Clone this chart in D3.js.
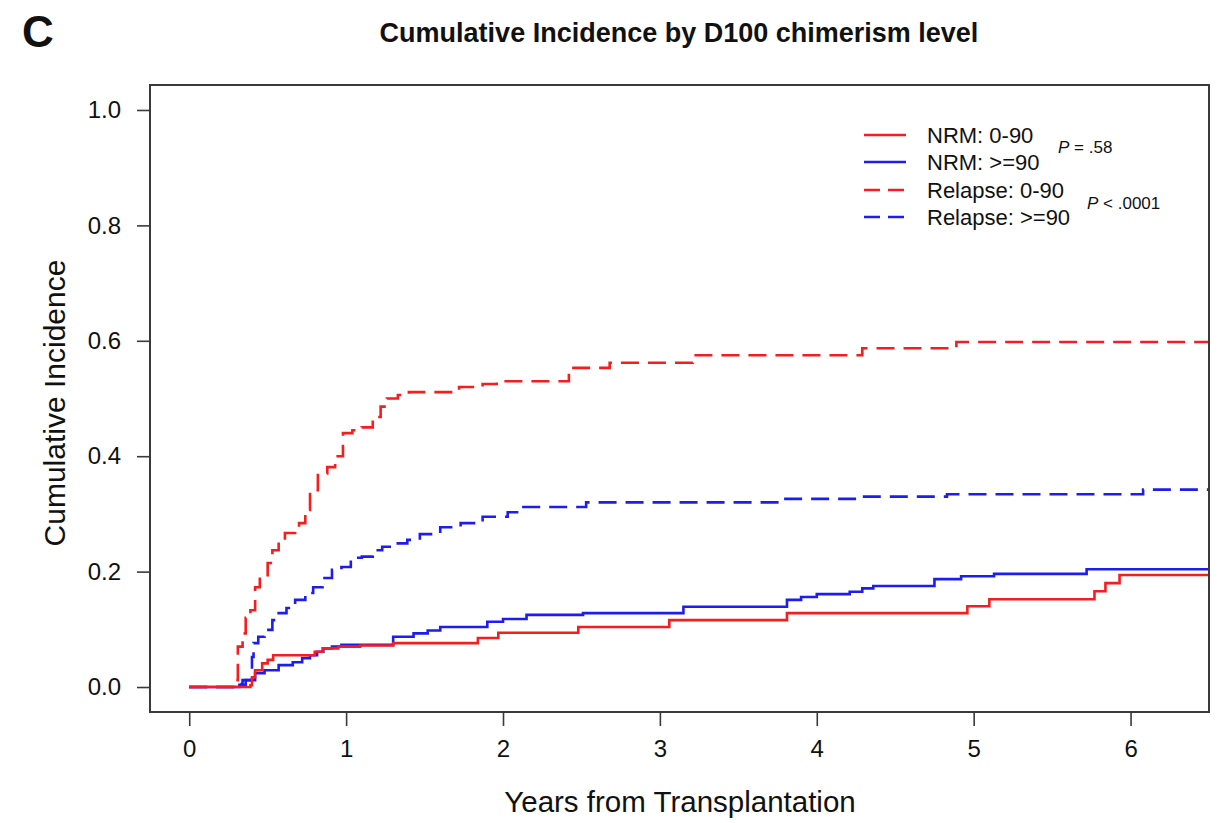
<!DOCTYPE html>
<html>
<head>
<meta charset="utf-8">
<script src="https://cdn.jsdelivr.net/npm/d3@7"></script>
<style>
  html, body { margin: 0; padding: 0; background: #fff; }
  svg { display: block; }
  text { font-family: "Liberation Sans", Arial, sans-serif; fill: #111; }
</style>
</head>
<body>
<svg id="chart" width="1220" height="823"></svg>
<script>
// ---- data ----
const xTicks = [0, 1, 2, 3, 4, 5, 6];
const yTicks = [0.0, 0.2, 0.4, 0.6, 0.8, 1.0];

const nrmLowTime  = [0, 0.39, 0.40, 0.42, 0.465, 0.50, 0.535, 0.80, 0.85, 0.95, 1.09, 1.30, 1.84, 1.97, 2.48, 3.06, 3.81, 4.96, 5.10, 5.77, 5.84, 5.93, 6.6];
const nrmLowValue = [0, 0.003, 0.017, 0.029, 0.041, 0.047, 0.055, 0.061, 0.067, 0.070, 0.072, 0.076, 0.085, 0.094, 0.104, 0.116, 0.128, 0.140, 0.152, 0.166, 0.180, 0.194, 0.194];

const nrmHighTime  = [0, 0.32, 0.36, 0.42, 0.48, 0.57, 0.66, 0.72, 0.77, 0.815, 0.855, 0.91, 0.97, 1.30, 1.43, 1.52, 1.60, 1.90, 2.00, 2.15, 2.51, 3.15, 3.81, 3.90, 4.00, 4.21, 4.29, 4.36, 4.75, 4.92, 5.13, 5.72, 6.6];
const nrmHighValue = [0, 0.004, 0.012, 0.024, 0.029, 0.038, 0.043, 0.050, 0.055, 0.061, 0.067, 0.070, 0.073, 0.087, 0.093, 0.098, 0.104, 0.113, 0.118, 0.125, 0.128, 0.139, 0.151, 0.156, 0.161, 0.165, 0.171, 0.175, 0.187, 0.192, 0.196, 0.204, 0.204];

const relLowTime  = [0, 0.29, 0.31, 0.34, 0.36, 0.39, 0.42, 0.45, 0.50, 0.53, 0.57, 0.61, 0.675, 0.70, 0.74, 0.77, 0.82, 0.88, 0.93, 0.98, 1.04, 1.10, 1.17, 1.22, 1.26, 1.33, 1.40, 1.72, 1.87, 1.96, 2.42, 2.68, 3.21, 4.29, 4.89, 6.6];
const relLowValue = [0, 0.012, 0.070, 0.093, 0.120, 0.133, 0.173, 0.190, 0.215, 0.237, 0.255, 0.267, 0.272, 0.284, 0.307, 0.341, 0.370, 0.381, 0.400, 0.440, 0.445, 0.450, 0.468, 0.486, 0.500, 0.506, 0.511, 0.520, 0.525, 0.530, 0.553, 0.562, 0.575, 0.587, 0.598, 0.598];

const relHighTime  = [0, 0.32, 0.34, 0.40, 0.41, 0.44, 0.48, 0.53, 0.57, 0.62, 0.675, 0.74, 0.79, 0.85, 0.91, 0.97, 1.03, 1.10, 1.17, 1.23, 1.30, 1.39, 1.47, 1.60, 1.73, 1.87, 2.03, 2.13, 2.53, 3.76, 4.27, 4.83, 6.08, 6.6];
const relHighValue = [0, 0.005, 0.012, 0.052, 0.076, 0.087, 0.099, 0.116, 0.128, 0.137, 0.151, 0.163, 0.173, 0.189, 0.203, 0.208, 0.224, 0.226, 0.237, 0.243, 0.249, 0.255, 0.265, 0.277, 0.284, 0.295, 0.303, 0.312, 0.320, 0.326, 0.330, 0.334, 0.342, 0.342];

const seriesNames  = ["NRM: 0-90", "NRM: >=90", "Relapse: 0-90", "Relapse: >=90"];
const seriesColors = ["#f51d1d", "#1d1df0", "#f51d1d", "#1d1df0"];
const seriesDashed = [false, false, true, true];

const title = "Cumulative Incidence by D100 chimerism level";
const panelLetter = "C";
const xLabel = "Years from Transplantation";
const yLabel = "Cumulative Incidence";

// ---- layout ----
const box = { left: 150, right: 1209, top: 85, bottom: 712 };
const svg = d3.select("#chart");

const x = d3.scaleLinear().domain([-0.25, 6.5]).range([box.left, box.right]);
const y = d3.scaleLinear().domain([-0.0433, 1.0433]).range([box.bottom, box.top]);

svg.append("defs").append("clipPath").attr("id", "clip")
  .append("rect").attr("x", box.left).attr("y", box.top)
  .attr("width", box.right - box.left).attr("height", box.bottom - box.top);

const series = [
  d3.zip(nrmLowTime, nrmLowValue),
  d3.zip(nrmHighTime, nrmHighValue),
  d3.zip(relLowTime, relLowValue),
  d3.zip(relHighTime, relHighValue)
];

const line = d3.line().x(d => x(d[0])).y(d => y(d[1])).curve(d3.curveStepAfter);

const g = svg.append("g").attr("clip-path", "url(#clip)");
[3, 2, 1, 0].forEach(i => {
  g.append("path")
    .attr("d", line(series[i]))
    .attr("fill", "none")
    .attr("stroke", seriesColors[i])
    .attr("stroke-width", 2.6)
    .attr("stroke-dasharray", seriesDashed[i] ? "18,9" : null);
});

// frame
svg.append("rect")
  .attr("x", box.left).attr("y", box.top)
  .attr("width", box.right - box.left).attr("height", box.bottom - box.top)
  .attr("fill", "none").attr("stroke", "#3a3a3a").attr("stroke-width", 2);

// x axis (ticks only, below frame)
const xAxis = d3.axisBottom(x).tickValues(xTicks).tickFormat(d3.format("d"))
  .tickSize(14).tickPadding(14);
const xg = svg.append("g").attr("transform", `translate(0,${box.bottom})`).call(xAxis);
xg.select(".domain").remove();
xg.selectAll(".tick line").attr("stroke", "#3a3a3a").attr("stroke-width", 1.6);
xg.selectAll(".tick text").attr("font-size", 24)
  .attr("font-family", "'Liberation Sans', Arial, sans-serif").attr("fill", "#111");

// y axis
const yAxis = d3.axisLeft(y).tickValues(yTicks).tickFormat(d3.format(".1f"))
  .tickSize(13).tickPadding(16);
const yg = svg.append("g").attr("transform", `translate(${box.left},0)`).call(yAxis);
yg.select(".domain").remove();
yg.selectAll(".tick line").attr("stroke", "#3a3a3a").attr("stroke-width", 1.6);
yg.selectAll(".tick text").attr("font-size", 24)
  .attr("font-family", "'Liberation Sans', Arial, sans-serif").attr("fill", "#111");

// titles
svg.append("text").attr("x", 22).attr("y", 47)
  .attr("font-size", 44).attr("font-weight", "bold").text(panelLetter);
svg.append("text").attr("x", 679).attr("y", 42).attr("text-anchor", "middle")
  .attr("font-size", 27).attr("font-weight", "bold").text(title);
svg.append("text").attr("x", 680).attr("y", 812).attr("text-anchor", "middle")
  .attr("font-size", 29.5).text(xLabel);
svg.append("text").attr("transform", "translate(65,403) rotate(-90)")
  .attr("text-anchor", "middle").attr("font-size", 30).text(yLabel);

// legend
const legY = [135, 162, 190, 217];
const leg = svg.append("g");
seriesNames.forEach((name, i) => {
  leg.append("line")
    .attr("x1", 864).attr("x2", 906).attr("y1", legY[i]).attr("y2", legY[i])
    .attr("stroke", seriesColors[i]).attr("stroke-width", 2.6)
    .attr("stroke-dasharray", seriesDashed[i] ? "16,8" : null);
  leg.append("text").attr("x", 927).attr("y", legY[i] + 8)
    .attr("font-size", 22).text(name);
});

// p-values
const p1 = svg.append("text").attr("x", 1058).attr("y", 153).attr("font-size", 17);
p1.append("tspan").attr("font-style", "italic").text("P");
p1.append("tspan").text(" = .58");
const p2 = svg.append("text").attr("x", 1087).attr("y", 209).attr("font-size", 17);
p2.append("tspan").attr("font-style", "italic").text("P");
p2.append("tspan").text(" < .0001");
</script>
</body>
</html>
